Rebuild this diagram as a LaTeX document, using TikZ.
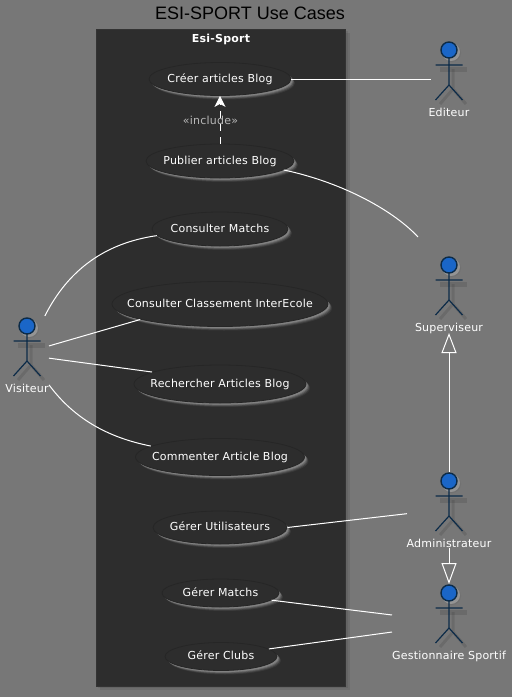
\documentclass[tikz,border=0pt]{standalone}
\usepackage{fontspec}
\setmainfont[LetterSpace=2]{DejaVu Sans}
\newfontfamily\titlefont{Liberation Sans}
\usetikzlibrary{arrows.meta,shapes.geometric,shadows}
\definecolor{pagegray}{HTML}{777777}
\definecolor{boundgray}{HTML}{2D2D2D}
\definecolor{actorblue}{HTML}{1A66C8}
\definecolor{actorline}{HTML}{0C2B48}
\tikzset{
  ucase/.style 2 args={ellipse, draw=black!85, fill=boundgray, text=white, line width=0.8pt,
    inner xsep=-20pt, inner ysep=-5pt, minimum width=#1pt, minimum height=#2pt,
    text height=8pt, text depth=2pt, font=\fontsize{11}{13}\selectfont,
    copy shadow={shadow xshift=4pt, shadow yshift=-4pt, draw=none, fill=white, opacity=0.06},
    copy shadow={shadow xshift=3.2pt, shadow yshift=-3.2pt, draw=none, fill=white, opacity=0.1},
    copy shadow={shadow xshift=2.4pt, shadow yshift=-2.4pt, draw=none, fill=white, opacity=0.14},
    copy shadow={shadow xshift=1.6pt, shadow yshift=-1.6pt, draw=none, fill=white, opacity=0.18}},
  actorbox/.style={rectangle, draw=none, inner sep=0pt, outer sep=0pt},
  actorlabel/.style={text=white, inner sep=0pt, text height=8pt, text depth=2pt, font=\fontsize{11}{13}\selectfont},
  link/.style={draw=white, line width=1pt},
}
\newcommand{\actorfig}[4]{
  \draw[black, opacity=0.1, line width=3pt] (#2+4,#3+19)--(#2+4,#3+39)--(#2-9,#3+54) (#2+4,#3+39)--(#2+17,#3+54);
  \draw[black, opacity=0.1, line width=5pt] (#2-9,#3+19)--(#2+18,#3+19);
  \fill[black!60, opacity=0.3] (#2+3,#3+3) circle (9);
  \fill[white, opacity=0.25] (#2+2,#3+2) circle (9);
  \draw[actorline, line width=1.2pt] (#2,#3+8)--(#2,#3+35)--(#2-13.5,#3+50) (#2,#3+35)--(#2+13.5,#3+50) (#2-13.5,#3+15)--(#2+13.5,#3+15);
  \draw[actorline, fill=actorblue, line width=1.4pt] (#2,#3) circle (8);
  \node (#1) at (#2,#3+63.2) [actorlabel] {#4};
}
\begin{document}
\begin{tikzpicture}[x=1pt, y=-1pt]
\useasboundingbox (0,0) rectangle (512,697);
\fill[pagegray] (0,0) rectangle (512,697);
\node (title) at (250,13) [inner sep=0pt, font=\titlefont\fontsize{18}{20}\selectfont] {ESI-SPORT Use Cases};
\fill[black, opacity=0.08] (98,31) rectangle (348,688);
\fill[black, opacity=0.08] (100,33) rectangle (350,690);
\draw[black!80, fill=boundgray, line width=1pt] (96.5,29.5) rectangle (345.5,686);
\node (esisport) at (221,39) [text=white, inner sep=0pt, font=\fontsize{11}{13}\selectfont\bfseries] {Esi-Sport};

\node (creer) at (220,79) [ucase={142}{33}] {Créer articles Blog};
\node (publier) at (220,161) [ucase={148}{34}] {Publier articles Blog};
\node (consmatchs) at (220,229) [ucase={136}{34}] {Consulter Matchs};
\node (classement) at (220,304) [ucase={216}{45}] {Consulter Classement InterEcole};
\node (rechercher) at (220,384) [ucase={172}{38}] {Rechercher Articles Blog};
\node (commenter) at (220,457) [ucase={169}{37}] {Commenter Article Blog};
\node (utilisateurs) at (220,527.5) [ucase={134}{33}] {Gérer Utilisateurs};
\node (gmatchs) at (220.5,593) [ucase={117}{28}] {Gérer Matchs};
\node (gclubs) at (221,656.5) [ucase={112}{28}] {Gérer Clubs};

\actorfig{editeurlbl}{449}{50}{Editeur}
\actorfig{superviseurlbl}{449}{265}{Superviseur}
\actorfig{visiteurlbl}{27}{326}{Visiteur}
\actorfig{adminlbl}{449}{481}{Administrateur}
\actorfig{gestlbl}{449}{593}{Gestionnaire Sportif}

\node (editeur) at (449,79) [actorbox, minimum width=36pt, minimum height=76pt] {};
\node (superviseur) at (449,285) [actorbox, minimum width=62pt, minimum height=96pt] {};
\node (visiteur) at (27,351) [actorbox, minimum width=44pt, minimum height=70pt] {};
\node (admin) at (449,510) [actorbox, minimum width=84pt, minimum height=76pt] {};
\node (gest) at (449,623) [actorbox, minimum width=114pt, minimum height=78pt] {};

\draw[link] (creer.east) -- (editeur.west);
\draw[link, dash pattern=on 7pt off 6pt, -{Stealth[length=11pt, width=11pt, inset=3pt]}] (publier.north) -- (creer.south);
\node (includelbl) at (210.5,120) [text=white!72!black, inner sep=0pt, font=\fontsize{11}{13}\selectfont] {«include»};
\draw[link] (publier.352) .. controls (345,183) and (395,212) .. (superviseur.north west);
\draw[link] (visiteur.63) .. controls (68,270) and (105,243) .. (consmatchs.186);
\draw[link] (visiteur.13) -- (classement.191.5);
\draw[link] (visiteur.-18) -- (rechercher.170.4);
\draw[link] (visiteur.-57) .. controls (75,420) and (110,438) .. (commenter.171.6);
\draw[link] (utilisateurs.east) -- (admin.185.4);
\draw[link] (gmatchs.352) -- (gest.172);
\draw[link] (gclubs.9.7) -- (gest.189);
\draw[link, -{Triangle[open, length=20pt, width=15pt]}] (admin.north) -- (superviseur.south);
\draw[link, -{Triangle[open, length=21pt, width=15pt]}] (admin.south) -- (gest.north);
\end{tikzpicture}
\end{document}
